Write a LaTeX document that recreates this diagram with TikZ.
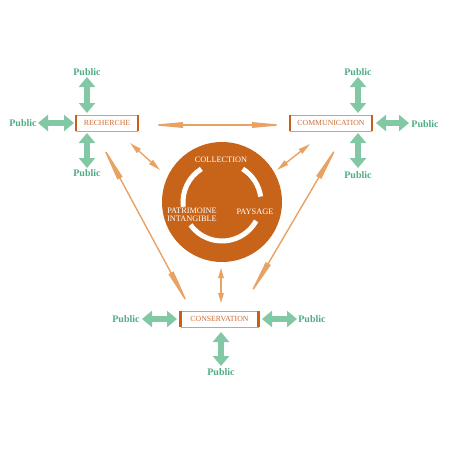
\documentclass[tikz,border=0pt]{standalone}
\usepackage{fontspec}
\setmainfont{Liberation Serif}
\usetikzlibrary{arrows.meta}
\definecolor{circ}{RGB}{200,100,25}
\definecolor{conn}{RGB}{232,162,100}
\definecolor{gfill}{RGB}{130,200,165}
\definecolor{gtext}{RGB}{80,172,132}
\definecolor{bdark}{RGB}{200,95,25}
\definecolor{blight}{RGB}{228,155,100}
\definecolor{btext}{RGB}{205,110,50}
\begin{document}
\begin{tikzpicture}[x=1pt,y=-1pt,
  box/.style={draw=blight, line width=0.8pt, fill=white, minimum width=#1, minimum height=16pt, inner sep=0pt, font=\fontsize{7.8}{8}\selectfont, text=btext},
  bar/.style={draw=bdark, line width=2.6pt},
  pub/.style={font=\bfseries\fontsize{10}{11}\selectfont, text=gtext, inner sep=0pt},
  garrow/.style={line width=6pt, draw=gfill, {Triangle[length=10pt,width=16pt]}-{Triangle[length=10pt,width=16pt]}},
  conn/.style={draw=conn, line width=1.4pt, {Triangle[length=#1,width=5.5pt]}-{Triangle[length=#1,width=5.5pt]}},
  ctext/.style={text=white, font=\fontsize{8.3}{9.5}\selectfont, align=center, inner sep=0pt}
]
\useasboundingbox (0,0) rectangle (450,450);

% central circle
\coordinate (c) at (222,202);
\fill[circ] (c) circle[radius=60pt];
\draw[white, line width=5pt] (c) ++(122:39pt) arc[start angle=122, end angle=187, radius=39pt];
\draw[white, line width=5pt] (c) ++(216:39pt) arc[start angle=216, end angle=331, radius=39pt];
\draw[white, line width=5pt] (c) ++(8:39pt) arc[start angle=8, end angle=58, radius=39pt];
\node[ctext] (coll) at (221,159.5) {COLLECTION};
\node[ctext] (patr) at (192,215) {PATRIMOINE\\[-1.5pt]INTANGIBLE};
\node[ctext] (pays) at (255,212) {PAYSAGE};

% boxes
\node[box=61pt] (rech) at (107,123) {RECHERCHE};
\node[box=81pt] (comm) at (331,123) {COMMUNICATION};
\node[box=77pt] (cons) at (219.5,319) {CONSERVATION};
\foreach \b in {rech,comm,cons}{
  \draw[bar] (\b.north west) -- (\b.south west);
  \draw[bar] (\b.north east) -- (\b.south east);
}

% orange connectors
\coordinate (a1) at (150,125); \coordinate (b1) at (285,125);
\coordinate (a2) at (130,143); \coordinate (b2) at (160,170);
\coordinate (a3) at (101,143); \coordinate (b3) at (190,308);
\coordinate (a4) at (310,144); \coordinate (b4) at (277,170);
\coordinate (a5) at (339,143); \coordinate (b5) at (248,298);
\coordinate (a6) at (221,268); \coordinate (b6) at (221,303);
\draw[conn=33pt] (a1) -- (b1);
\draw[conn=12pt] (a2) -- (b2);
\draw[conn=40pt] (a3) -- (b3);
\draw[conn=12pt] (a4) -- (b4);
\draw[conn=40pt] (a5) -- (b5);
\draw[conn=10pt] (a6) -- (b6);

% Public labels
\node[pub] (rt) at (87,72) {Public};
\node[pub] (rl) at (23,123) {Public};
\node[pub] (rb) at (87,173) {Public};
\node[pub] (ct) at (358,72) {Public};
\node[pub] (cr) at (425,124) {Public};
\node[pub] (cb) at (358,175) {Public};
\node[pub] (sl) at (126,319) {Public};
\node[pub] (sr) at (312,319) {Public};
\node[pub] (sb) at (221,372) {Public};

% green arrows
\coordinate (g1a) at (87,77);  \coordinate (g1b) at (87,113);
\coordinate (g2a) at (38,123); \coordinate (g2b) at (74,123);
\coordinate (g3a) at (87,133); \coordinate (g3b) at (87,168);
\coordinate (g4a) at (358,77); \coordinate (g4b) at (358,113);
\coordinate (g5a) at (376,123); \coordinate (g5b) at (409,123);
\coordinate (g6a) at (358,133); \coordinate (g6b) at (358,168);
\coordinate (g7a) at (142,319); \coordinate (g7b) at (177,319);
\coordinate (g8a) at (262,319); \coordinate (g8b) at (297,319);
\coordinate (g9a) at (221,332); \coordinate (g9b) at (221,366);
\foreach \i in {1,...,9}{ \draw[garrow] (g\i a) -- (g\i b); }
\end{tikzpicture}
\end{document}
